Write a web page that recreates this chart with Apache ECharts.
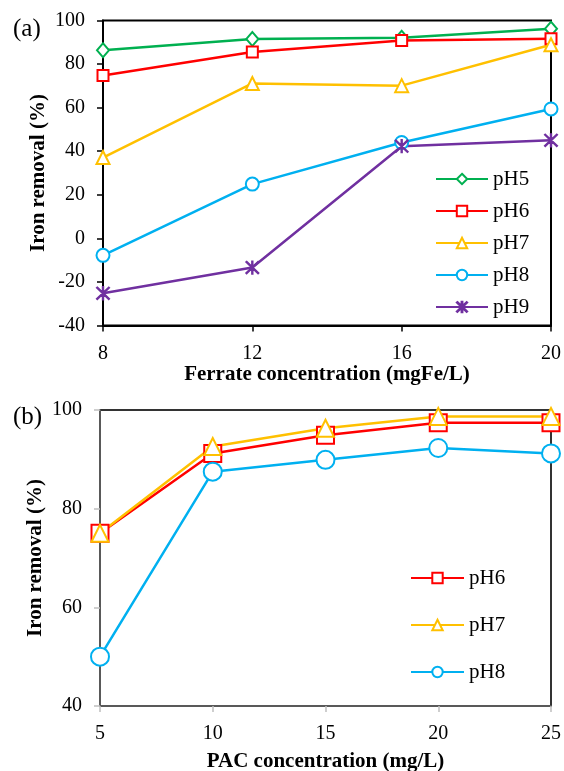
<!DOCTYPE html>
<html>
<head>
<meta charset="utf-8">
<script src="https://cdn.jsdelivr.net/npm/echarts@6/dist/echarts.min.js"></script>
<style>
  html, body { margin: 0; padding: 0; background: #fff; }
  #chart { width: 564px; height: 771px; }
</style>
</head>
<body>
<div id="chart"></div>
<script>
// Panel (a): ferrate dose vs. iron removal at different pH
const ferrateDose = [8, 12, 16, 20];
const ferratePH5 = [86.3, 91.5, 92.1, 96.2];
const ferratePH6 = [74.8, 85.5, 90.8, 91.6];
const ferratePH7 = [37.1, 71.1, 70.1, 88.9];
const ferratePH8 = [-7.8, 24.9, 44.0, 59.4];
const ferratePH9 = [-25.2, -13.4, 42.3, 45.0];

// Panel (b): PAC dose vs. iron removal at different pH
const pacDose = [5, 10, 15, 20, 25];
const pacPH6 = [75.0, 91.2, 94.9, 97.4, 97.4];
const pacPH7 = [75.0, 92.6, 96.3, 98.7, 98.7];
const pacPH8 = [50.0, 87.5, 89.9, 92.3, 91.2];

const serif = '"Liberation Serif", "DejaVu Serif", serif';
const COLORS = { pH5: '#00B050', pH6: '#FF0000', pH7: '#FFC000', pH8: '#00B0F0', pH9: '#7030A0' };

// Asterisk marker: vertical bar plus two diagonals
const ASTERISK = 'path://M9.2 0L10.8 0L10.8 20L9.2 20Z' +
  'M1.57 0.43L19.57 18.43L18.43 19.57L0.43 1.57Z' +
  'M19.57 1.57L1.57 19.57L0.43 18.43L18.43 0.43Z';

function pairs(xs, ys) { return xs.map((x, i) => [x, ys[i]]); }

function lineSeries(name, xs, ys, symbol, size, axisIdx) {
  return {
    type: 'line', name: name,
    xAxisIndex: axisIdx, yAxisIndex: axisIdx,
    data: pairs(xs, ys),
    symbol: symbol, symbolSize: size,
    showAllSymbol: true,
    lineStyle: { color: COLORS[name], width: 2.5 },
    itemStyle: { color: COLORS[name], borderColor: COLORS[name], borderWidth: 1.3 },
    emphasis: { disabled: true },
    animation: false
  };
}

function makeXAxis(gridIndex, min, max, interval, name, nameGap, axisColor, tickColor) {
  return {
    type: 'value', gridIndex: gridIndex, min: min, max: max, interval: interval,
    name: name, nameLocation: 'middle', nameGap: nameGap, nameMoveOverlap: false,
    nameTextStyle: { fontFamily: serif, fontWeight: 'bold', fontSize: 21, color: '#000' },
    axisLine: { show: true, onZero: false, lineStyle: { color: axisColor, width: 2 } },
    axisTick: { show: true, inside: false, length: 6, lineStyle: { color: tickColor, width: 1.5 } },
    axisLabel: { fontFamily: serif, fontSize: 20, color: '#000', margin: 18 },
    splitLine: { show: false }
  };
}

function makeYAxis(gridIndex, min, max, interval, axisColor, tickColor) {
  return {
    type: 'value', gridIndex: gridIndex, min: min, max: max, interval: interval,
    name: 'Iron removal (%)', nameLocation: 'middle', nameGap: 54, nameRotate: 90,
    nameMoveOverlap: false,
    nameTextStyle: { fontFamily: serif, fontWeight: 'bold', fontSize: 21, color: '#000' },
    axisLine: { show: true, onZero: false, lineStyle: { color: axisColor, width: 2 } },
    axisTick: { show: true, inside: false, length: 6, lineStyle: { color: tickColor, width: 1.5 } },
    axisLabel: { fontFamily: serif, fontSize: 20, color: '#000', margin: 18 },
    splitLine: { show: false }
  };
}

const chart = echarts.init(document.getElementById('chart'), null, { renderer: 'canvas' });

chart.setOption({
  backgroundColor: '#fff',
  animation: false,
  title: [
    { text: '(a)', left: 8, top: 12, textStyle: { fontFamily: serif, fontSize: 25, fontWeight: 'normal', color: '#000' } },
    { text: '(b)', left: 8, top: 400, textStyle: { fontFamily: serif, fontSize: 25, fontWeight: 'normal', color: '#000' } }
  ],
  grid: [
    { left: 103, right: 13, top: 20.5, height: 305, outerBoundsMode: 'none', containLabel: false,
      show: true, borderColor: '#000', borderWidth: 2, backgroundColor: 'transparent' },
    { left: 100, right: 13, top: 410, height: 296, outerBoundsMode: 'none', containLabel: false,
      show: true, borderColor: '#333', borderWidth: 2, backgroundColor: 'transparent' }
  ],
  xAxis: [
    makeXAxis(0, 8, 20, 4, 'Ferrate concentration (mgFe/L)', 39, '#000', '#000'),
    makeXAxis(1, 5, 25, 5, 'PAC concentration (mg/L)', 45, '#595959', '#bfbfbf')
  ],
  yAxis: [
    makeYAxis(0, -40, 100, 20, '#000', '#000'),
    makeYAxis(1, 40, 100, 20, '#595959', '#bfbfbf')
  ],
  legend: [
    {
      data: ['pH5', 'pH6', 'pH7', 'pH8', 'pH9'],
      orient: 'vertical', left: 435, top: 168.5, padding: 0,
      itemWidth: 52, itemHeight: 13, itemGap: 11,
      textStyle: { fontFamily: serif, fontSize: 21, color: '#000' },
      selectedMode: false
    },
    {
      data: ['pH6 ', 'pH7 ', 'pH8 '],
      orient: 'vertical', left: 410, top: 567.5, padding: 0,
      itemWidth: 53, itemHeight: 13, itemGap: 26,
      textStyle: { fontFamily: serif, fontSize: 21, color: '#000' },
      formatter: n => n.trim(),
      selectedMode: false
    }
  ],
  series: [
    lineSeries('pH5', ferrateDose, ferratePH5, 'emptyDiamond', [12, 14], 0),
    lineSeries('pH6', ferrateDose, ferratePH6, 'emptyRect', 11, 0),
    lineSeries('pH7', ferrateDose, ferratePH7, 'emptyTriangle', 13, 0),
    lineSeries('pH8', ferrateDose, ferratePH8, 'emptyCircle', 13, 0),
    lineSeries('pH9', ferrateDose, ferratePH9, ASTERISK, 13, 0),
    Object.assign(lineSeries('pH6', pacDose, pacPH6, 'emptyRect', 17, 1), { name: 'pH6 ' }),
    Object.assign(lineSeries('pH7', pacDose, pacPH7, 'emptyTriangle', 17, 1), { name: 'pH7 ' }),
    Object.assign(lineSeries('pH8', pacDose, pacPH8, 'emptyCircle', 18, 1), { name: 'pH8 ' })
  ]
});
</script>
</body>
</html>
